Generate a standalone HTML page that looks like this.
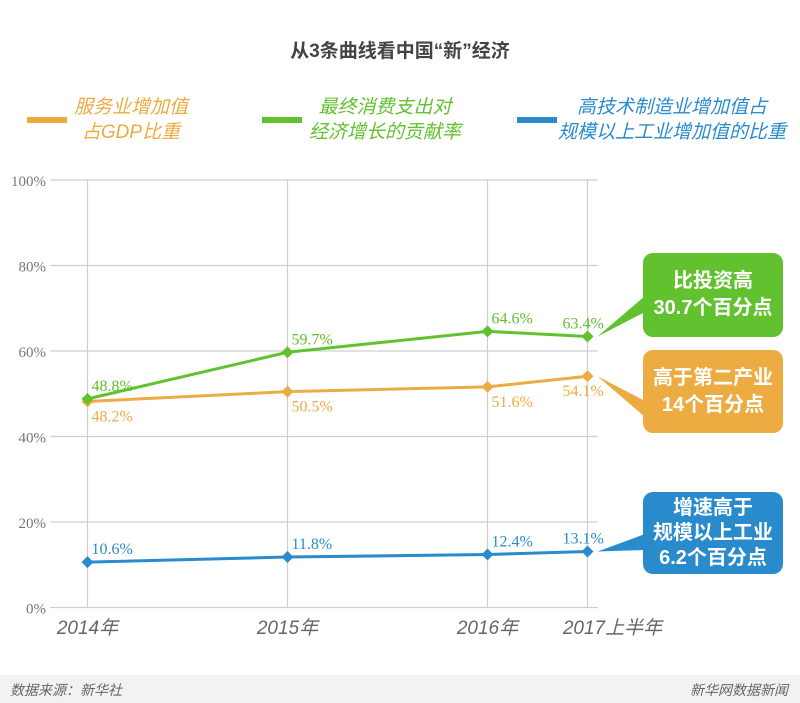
<!DOCTYPE html>
<html><head><meta charset="utf-8">
<style>
html,body{margin:0;padding:0;background:#fff;}
body{width:800px;height:703px;position:relative;overflow:hidden;font-family:"Liberation Sans","Noto Sans CJK SC",sans-serif;}
.abs{position:absolute;}
.title{left:0;width:800px;top:36px;text-align:center;font-size:19px;font-weight:bold;color:#444;}
.leg{font-size:19px;font-style:italic;text-align:center;line-height:25px;white-space:nowrap;}
.sw{height:6px;width:40px;}
.box{border-radius:10px;color:#fff;font-weight:bold;font-size:20px;text-align:center;display:flex;flex-direction:column;justify-content:center;line-height:27px;}
.footer{left:0;top:675px;width:800px;height:28px;background:#f2f2f2;font-size:14px;font-style:italic;color:#666;}
</style></head><body>
<div class="abs title">从3条曲线看中国“新”经济</div>

<div class="abs sw" style="left:27px;top:117px;background:#ecac41"></div>
<div class="abs leg" style="left:51px;top:95px;width:160px;color:#ecac41">服务业增加值<br>占GDP比重</div>
<div class="abs sw" style="left:262px;top:117px;background:#62c12f"></div>
<div class="abs leg" style="left:295px;top:95px;width:180px;color:#62c12f">最终消费支出对<br>经济增长的贡献率</div>
<div class="abs sw" style="left:517px;top:117px;background:#2a8bcc"></div>
<div class="abs leg" style="left:552px;top:95px;width:240px;color:#2a8bcc">高技术制造业增加值占<br>规模以上工业增加值的比重</div>

<svg class="abs" style="left:0;top:0" width="800" height="703" id="chart"></svg>

<div class="abs box" style="left:643px;top:253px;width:140px;height:84px;background:#62c12f"><div>比投资高</div><div>30.7个百分点</div></div>
<div class="abs box" style="left:643px;top:350px;width:140px;height:83px;background:#ecac41"><div>高于第二产业</div><div>14个百分点</div></div>
<div class="abs box" style="left:643px;top:492px;width:140px;height:82px;background:#2a8bcc;line-height:25px"><div>增速高于</div><div>规模以上工业</div><div>6.2个百分点</div></div>

<div class="abs footer">
<span class="abs" style="left:10px;top:5px">数据来源：新华社</span>
<span class="abs" style="right:12px;top:5px">新华网数据新闻</span>
</div>

<script>
const categories=["2014年","2015年","2016年","2017上半年"];
const catPos=[0,1,2,2.5];
const serviceVals=[48.2,50.5,51.6,54.1];
const consumptionVals=[48.8,59.7,64.6,63.4];
const hightechVals=[10.6,11.8,12.4,13.1];
const yTicks=[0,20,40,60,80,100];

const svg=document.getElementById('chart');
const NS='http://www.w3.org/2000/svg';
const X=p=>87.5+p*200;
const Y=v=>607.5-v*4.275;
function mk(tag,attrs){const e=document.createElementNS(NS,tag);for(const k in attrs)e.setAttribute(k,attrs[k]);svg.appendChild(e);return e;}

yTicks.forEach(t=>{
  const l=mk('line',{x1:50,x2:598,y1:Y(t),y2:Y(t),stroke:'#cfcfcf','stroke-width':1.2});
  
  
  const tx=mk('text',{x:46,y:Y(t)+6,'text-anchor':'end','font-size':15,fill:'#777','font-family':'Liberation Serif, serif'});
  tx.textContent=t+'%';
  
  
});
categories.forEach((c,i)=>{
  const l=mk('line',{x1:X(catPos[i]),x2:X(catPos[i]),y1:Y(100),y2:Y(0),stroke:'#cfcfcf','stroke-width':1.2});
  
  
  const tx=mk('text',{x:X(catPos[i])+(i==3?25:0),y:634,'text-anchor':'middle','font-size':19,fill:'#666','font-style':'italic','font-family':'Liberation Sans, Noto Sans CJK SC, sans-serif'});
  tx.textContent=c;
  
  
});

function series(vals,color,name,labelDy,boxY){
  const pts=vals.map((v,i)=>[X(catPos[i]),Y(v)]);
  const last=pts[pts.length-1];
  const tri=mk('polygon',{points:`${last[0]+10},${last[1]} 645,${boxY-7} 645,${boxY+9}`,fill:color});
  
  
  const pl=mk('polyline',{points:pts.map(p=>p.join(',')).join(' '),fill:'none',stroke:color,'stroke-width':3});
  
  
  pts.forEach((p,i)=>{
    const d=mk('polygon',{points:`${p[0]},${p[1]-6} ${p[0]+6},${p[1]} ${p[0]},${p[1]+6} ${p[0]-6},${p[1]}`,fill:color});
    
    
    const t=mk('text',{x:p[0]+(i==3?-25:4),y:p[1]+labelDy,'font-size':16,fill:color,'font-family':'Liberation Serif, serif'});
    t.textContent=vals[i].toFixed(1)+'%';
    
    
  });
}
series(serviceVals,'#ecac41','service',20,408);
series(consumptionVals,'#62c12f','consumption',-8,303);
series(hightechVals,'#2a8bcc','hightech',-8,541);
</script>
</body></html>
